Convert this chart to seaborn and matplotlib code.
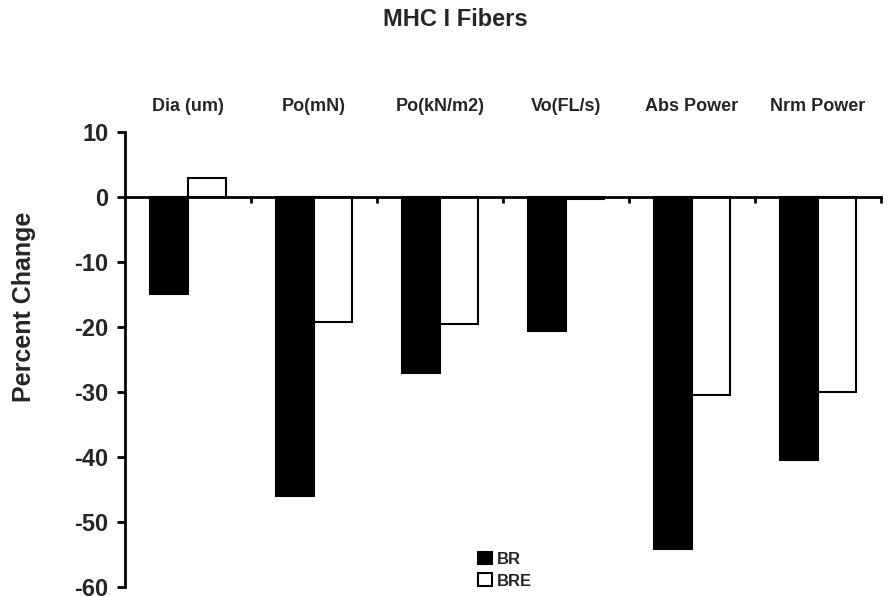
import matplotlib
matplotlib.use("Agg")
import matplotlib.pyplot as plt
import seaborn as sns
import pandas as pd

categories = ["Dia (um)", "Po(mN)", "Po(kN/m2)", "Vo(FL/s)", "Abs Power", "Nrm Power"]
br_values = [-14.9, -46.0, -27.0, -20.6, -54.2, -40.5]
bre_values = [3.0, -19.3, -19.5, -0.3, -30.5, -30.0]
series = ["BR", "BRE"]
y_ticks = [10, 0, -10, -20, -30, -40, -50, -60]

df = pd.DataFrame({
    "Category": categories * 2,
    "Group": [series[0]] * len(categories) + [series[1]] * len(categories),
    "Value": br_values + bre_values,
})

sns.set_style("white")
plt.rcParams["font.family"] = ["Liberation Sans", "DejaVu Sans"]
plt.rcParams["font.weight"] = "bold"

fig = plt.figure(figsize=(8.88, 5.96), dpi=100)
ax = fig.add_axes([125 / 888, 1 - 587 / 596, 756 / 888, 455 / 596])

sns.barplot(data=df, x="Category", y="Value", hue="Group", order=categories,
            hue_order=series, palette={"BR": "black", "BRE": "white"},
            edgecolor="black", linewidth=1.5, width=0.6, ax=ax, errorbar=None)

ax.set_xlim(-0.5, len(categories) - 0.5)
ax.set_ylim(-60, 10)
ax.set_yticks(y_ticks)
ax.set_yticklabels([str(t) for t in y_ticks], fontsize=17, fontweight="bold")

for s in ["top", "right"]:
    ax.spines[s].set_visible(False)
ax.spines["bottom"].set_position(("data", 0))
ax.spines["bottom"].set_linewidth(2)
ax.spines["left"].set_linewidth(2)
ax.spines["left"].set_color("black")
ax.spines["bottom"].set_color("black")

ax.set_xticks(range(len(categories)))
ax.set_xticklabels(categories, fontsize=13, fontweight="bold")
ax.tick_params(axis="x", which="major", bottom=False, top=False,
               labelbottom=False, labeltop=True, length=0, pad=12)
ax.set_xticks([i + 0.5 for i in range(len(categories))], minor=True)
ax.tick_params(axis="x", which="minor", bottom=True, direction="out",
               length=4, width=2, color="black")
ax.tick_params(axis="y", direction="out", length=6, width=2, color="black",
               left=True, pad=6)

ax.set_xlabel("")
ax.set_ylabel("")
fig.text(24 / 888, 1 - 307 / 596, "Percent Change", rotation=90, ha="center",
         va="center", fontsize=18, fontweight="bold")
fig.text(455 / 888, 1 - 20 / 596, "MHC I Fibers", ha="center", va="center",
         fontsize=17, fontweight="bold")

handles, labels = ax.get_legend_handles_labels()
ax.legend(handles, labels, loc="center", bbox_to_anchor=(505 / 888, 1 - 570 / 596),
          bbox_transform=fig.transFigure, frameon=False, handlelength=0.8,
          handleheight=0.8, handletextpad=0.3, labelspacing=0.4,
          prop={"weight": "bold", "size": 12})

fig.savefig("out.png", dpi=100, facecolor="white")
